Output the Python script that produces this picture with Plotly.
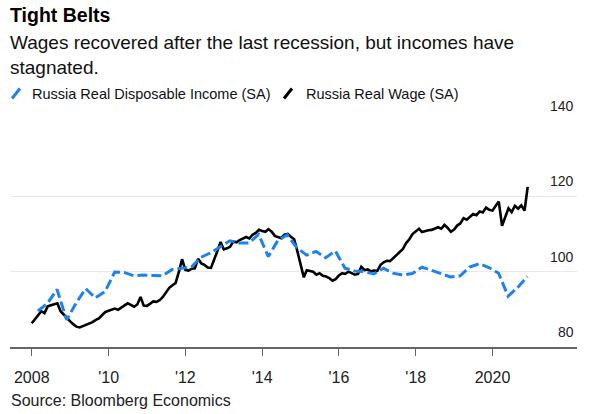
import plotly.graph_objects as go
import pandas as pd

# ---------------- data ----------------
wage_start = "2008-01-01"  # monthly, Jan 2008 .. Dec 2020
wage_values = [
    # 2008
    86.3, 87.5, 88.6, 89.5, 89.0, 90.8, 91.1, 91.3, 91.6, 89.5, 88.5, 87.7,
    # 2009
    86.8, 86.0, 85.4, 85.2, 85.5, 85.9, 86.2, 86.6, 87.2, 87.6, 88.5, 89.3,
    # 2010
    89.6, 89.9, 90.2, 89.9, 90.4, 91.0, 91.6, 91.2, 90.7, 91.3, 93.3, 91.0,
    # 2011
    90.9, 91.5, 92.1, 92.0, 92.4, 93.3, 94.6, 95.7, 96.4, 97.0, 100.0, 103.3,
    # 2012
    100.5, 100.3, 100.8, 100.9, 103.4, 102.2, 101.8, 101.1, 101.0, 103.0, 105.5, 107.9,
    # 2013
    105.9, 106.2, 106.6, 108.0, 107.8, 108.4, 108.7, 109.2, 108.8, 109.8, 110.3, 111.1,
    # 2014
    110.8, 110.6, 111.3, 110.6, 109.5, 109.1, 108.9, 109.8, 110.0, 109.3, 108.6, 105.5,
    # 2015
    102.3, 98.5, 100.4, 100.1, 100.0, 99.2, 99.6, 98.9, 98.7, 98.3, 97.6, 98.0,
    # 2016
    99.0, 99.6, 99.4, 100.0, 99.7, 99.2, 99.4, 101.3, 100.4, 100.6, 100.1, 100.3,
    # 2017
    100.2, 101.8, 102.5, 102.9, 102.8, 103.6, 104.5, 105.3, 106.0, 107.6, 108.6, 110.0,
    # 2018
    110.8, 111.4, 110.5, 110.8, 111.0, 111.1, 111.4, 111.8, 111.4, 112.4, 111.6, 110.6,
    # 2019
    111.2, 112.3, 112.8, 114.2, 113.8, 114.6, 115.3, 115.0, 116.0, 115.7, 117.0, 116.4,
    # 2020
    116.2, 117.5, 118.6, 112.2, 114.5, 116.8, 115.8, 117.5, 116.7, 117.6, 116.2, 122.5,
]

income_start = "2008-02-01"  # quarterly
income_values = [
    89.6, 91.5, 95.3, 87.2,      # 2008
    91.8, 95.5, 93.0, 94.7,      # 2009
    99.9, 99.8, 98.9, 99.1,      # 2010
    99.0, 98.9, 100.6, 100.8,    # 2011
    101.2, 103.8, 105.0, 106.6,  # 2012
    108.2, 107.6, 107.6, 109.9,  # 2013
    104.0, 108.2, 109.8, 106.3,  # 2014
    104.4, 105.4, 103.7, 105.5,  # 2015
    100.9, 100.2, 100.0, 99.4,   # 2016
    100.9, 99.6, 99.1, 99.5,     # 2017
    101.2, 100.4, 99.5, 98.6,    # 2018
    98.9, 101.2, 102.1, 101.1,   # 2019
    99.6, 93.5, 95.8, 98.7,      # 2020
]

series_names = ["Russia Real Disposable Income (SA)", "Russia Real Wage (SA)"]
x_tick_vals = ["2008-01-01", "2010-01-01", "2012-01-01", "2014-01-01",
               "2016-01-01", "2018-01-01", "2020-01-01"]
x_tick_text = ["2008", "'10", "'12", "'14", "'16", "'18", "2020"]
y_tick_vals = [80, 100, 120, 140]

title_text = "Tight Belts"
subtitle_lines = ["Wages recovered after the last recession, but incomes have",
                  "stagnated."]
source_text = "Source: Bloomberg Economics"

# ---------------- figure ----------------
wage_dates = pd.date_range(wage_start, periods=len(wage_values), freq="MS")
income_dates = pd.date_range(income_start, periods=len(income_values), freq="3MS") + pd.Timedelta(days=27)

BLUE = "#1b82f0"
FONT = "Liberation Sans, Arial, sans-serif"

W, H = 590, 414
L, R, T, B = 10, 13, 121, 67
PW, PH = W - L - R, H - T - B


def px(x):
    return (x - L) / PW


def py(y):
    return (H - B - y) / PH


fig = go.Figure()
fig.add_trace(go.Scatter(x=wage_dates, y=wage_values, mode="lines",
                         name=series_names[1],
                         line=dict(color="#000000", width=2.6),
                         showlegend=False))
fig.add_trace(go.Scatter(x=income_dates, y=income_values, mode="lines",
                         name=series_names[0],
                         line=dict(color=BLUE, width=3, dash="10px,4px"),
                         showlegend=False))

annotations = []
annotations.append(dict(text="<b>" + title_text + "</b>", x=px(8), y=py(15),
                        xref="paper", yref="paper", xanchor="left", yanchor="middle",
                        showarrow=False, font=dict(family=FONT, size=19.5, color="#000")))
for i, line in enumerate(subtitle_lines):
    annotations.append(dict(text=line, x=px(8), y=py(42 + 25 * i),
                            xref="paper", yref="paper", xanchor="left", yanchor="middle",
                            showarrow=False, font=dict(family=FONT, size=19, color="#111")))
annotations.append(dict(text=series_names[0], x=px(30), y=py(94),
                        xref="paper", yref="paper", xanchor="left", yanchor="middle",
                        showarrow=False, font=dict(family=FONT, size=14.5, color="#111")))
annotations.append(dict(text=series_names[1], x=px(304), y=py(94),
                        xref="paper", yref="paper", xanchor="left", yanchor="middle",
                        showarrow=False, font=dict(family=FONT, size=14.5, color="#111")))
annotations.append(dict(text=source_text, x=px(9), y=py(400),
                        xref="paper", yref="paper", xanchor="left", yanchor="middle",
                        showarrow=False, font=dict(family=FONT, size=16, color="#222")))
for v in y_tick_vals:
    annotations.append(dict(text=str(v), x=1, y=v, xref="paper", yref="y",
                            xanchor="right", yanchor="middle", yshift=15, xshift=-1,
                            showarrow=False, font=dict(family=FONT, size=14, color="#222")))

shapes = [
    dict(type="line", xref="paper", yref="paper", x0=px(12), y0=py(98.5), x1=px(20), y1=py(88.5),
         line=dict(color=BLUE, width=3)),
    dict(type="line", xref="paper", yref="paper", x0=px(284), y0=py(98.5), x1=px(292), y1=py(88.5),
         line=dict(color="#000", width=3)),
]

fig.update_layout(
    width=W, height=H,
    margin=dict(l=L, r=R, t=T, b=B),
    paper_bgcolor="white", plot_bgcolor="white",
    font=dict(family=FONT, color="#222"),
    annotations=annotations, shapes=shapes,
    showlegend=False,
    xaxis=dict(type="date", range=["2007-06-08", "2022-03-15"],
               tickvals=x_tick_vals, ticktext=x_tick_text,
               showgrid=False, zeroline=False,
               showline=True, linecolor="#666", linewidth=1.5,
               ticks="outside", ticklen=7, tickcolor="#666", tickwidth=1.3,
               ticklabelstandoff=8,
               tickfont=dict(family=FONT, size=16, color="#222")),
    yaxis=dict(range=[80, 140], side="right", tickvals=y_tick_vals,
               showticklabels=False,
               showgrid=True, gridcolor="#e8e8e8", gridwidth=1.2,
               zeroline=False, showline=False, ticks=""),
)

fig.write_html("out.html", config={"displayModeBar": False},
               post_script="document.body.style.margin='0';document.body.style.overflow='hidden';")
